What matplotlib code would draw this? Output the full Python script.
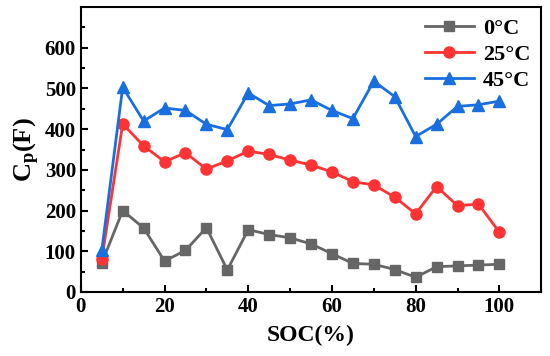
import matplotlib.pyplot as plt
from matplotlib.ticker import MultipleLocator

# SOC points and capacitance values
soc = [5, 10, 15, 20, 25, 30, 35, 40, 45, 50, 55, 60, 65, 70, 75, 80, 85, 90, 95, 100]
cp_0 = [71, 200, 157, 76, 102, 158, 54, 153, 141, 133, 118, 94, 70, 68, 55, 36, 62, 64, 66, 68]
cp_25 = [80, 413, 359, 320, 342, 302, 322, 346, 338, 324, 312, 295, 271, 263, 233, 192, 259, 212, 216, 147]
cp_45 = [102, 503, 420, 452, 446, 412, 399, 489, 458, 462, 472, 446, 426, 518, 480, 382, 412, 456, 460, 469]

plt.rcParams['font.family'] = 'Liberation Serif'
plt.rcParams['font.weight'] = 'bold'
plt.rcParams['mathtext.fontset'] = 'custom'
plt.rcParams['mathtext.rm'] = 'Liberation Serif:bold'
plt.rcParams['mathtext.it'] = 'Liberation Serif:bold'

fig = plt.figure(figsize=(5.5, 3.56), dpi=100)
ax = fig.add_axes([0.147, 0.180, 0.837, 0.800])

ax.plot(soc, cp_0, '-s', color='#666666', lw=2, markersize=7, label='0\u00b0C')
ax.plot(soc, cp_25, '-o', color='#ff3333', lw=2, markersize=8, label='25\u00b0C')
ax.plot(soc, cp_45, '-^', color='#1a6fe0', lw=2, markersize=9, label='45\u00b0C')

ax.set_xlim(0, 110)
ax.set_ylim(0, 700)
ax.xaxis.set_major_locator(MultipleLocator(20))
ax.xaxis.set_minor_locator(MultipleLocator(10))
ax.set_yticks(range(0, 601, 100))
ax.set_yticks(range(50, 701, 100), minor=True)
ax.tick_params(which='both', direction='in', labelsize=15, width=1.5)
ax.tick_params(which='major', length=5)
ax.tick_params(which='minor', length=3)
for s in ax.spines.values():
    s.set_linewidth(1.5)

ax.set_xlabel('SOC(%)', fontsize=17, fontweight='bold', labelpad=6)
ax.set_ylabel(r'$\mathrm{C_p(F)}$', fontsize=19, labelpad=2)

ax.legend(loc='upper right', frameon=False, fontsize=16, handlelength=2.2,
          borderaxespad=0.1, labelspacing=0.25, handletextpad=0.4)

fig.savefig('out.png', dpi=100)
